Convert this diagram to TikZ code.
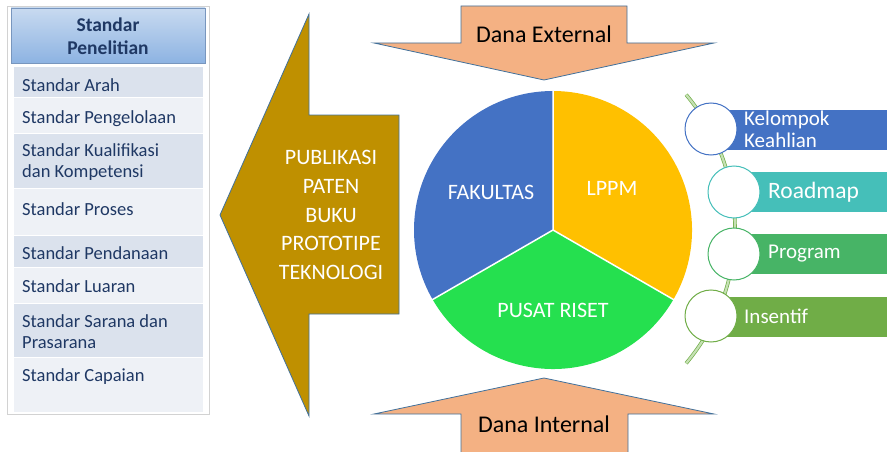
\documentclass[tikz,border=0pt]{standalone}
\usepackage{fontspec}
\setmainfont{Carlito}
\usetikzlibrary{shapes.geometric}
\definecolor{edgeblue}{HTML}{41719C}
\definecolor{danafill}{HTML}{F4B183}
\definecolor{gold}{HTML}{BF9000}
\definecolor{pieblue}{HTML}{4472C4}
\definecolor{pieyellow}{HTML}{FFC000}
\definecolor{piegreen}{HTML}{25E04F}
\definecolor{navy}{HTML}{1F3864}
\definecolor{banddark}{HTML}{DBE2ED}
\definecolor{bandlight}{HTML}{EEF1F6}
\definecolor{barblue}{HTML}{4472C4}
\definecolor{barteal}{HTML}{45BFB9}
\definecolor{bargreen}{HTML}{47B466}
\definecolor{barolive}{HTML}{70AD47}
\tikzset{
  danaarrow/.style={fill=danafill,draw=edgeblue,line width=0.8pt},
  dananame/.style={font=\fontsize{24}{28}\selectfont,text=black},
  pielabel/.style={font=\fontsize{22}{26}\selectfont,text=white},
  itemtext/.style={anchor=west,font=\fontsize{18.5}{21}\selectfont,text=navy,align=left,inner sep=0pt},
  banddk/.style={fill=banddark,draw=white,line width=1pt},
  bandlt/.style={fill=bandlight,draw=white,line width=1pt},
  ringc/.style={circle,fill=white,line width=1pt,minimum size=52pt,inner sep=0pt},
  bartext/.style={anchor=west,font=\fontsize{23.5}{26}\selectfont,text=white,align=left,inner sep=0pt},
}
\begin{document}
\begin{tikzpicture}[x=1pt,y=1pt]
\useasboundingbox (0,0) rectangle (887,451);
% left panel
\draw[gray!35,fill=white,line width=1pt] (7,444) rectangle (209,37);
\shade[top color={rgb,255:red,200;green,218;blue,240},bottom color={rgb,255:red,141;green,179;blue,226},draw={rgb,255:red,120;green,150;blue,190},line width=0.8pt] (11,443) rectangle (205,388);
\node[font=\bfseries\fontsize{19.5}{23}\selectfont,text=navy,align=center] (hdr) at (108,415) {Standar\\Penelitian};
\fill[banddk] (13,384) rectangle (203,353);
\fill[bandlt] (13,353) rectangle (203,318);
\fill[banddk] (13,318) rectangle (203,263);
\fill[bandlt] (13,263) rectangle (203,216);
\fill[banddk] (13,216) rectangle (203,184);
\fill[bandlt] (13,184) rectangle (203,148);
\fill[banddk] (13,148) rectangle (203,94);
\fill[bandlt] (13,94) rectangle (203,39);
\node[itemtext] (s1) at (22,366) {Standar Arah};
\node[itemtext] (s2) at (22,332) {Standar Pengelolaan};
\node[itemtext] (s3) at (22,288.5) {Standar Kualifikasi\\dan Kompetensi};
\node[itemtext] (s4) at (22,242) {Standar Proses};
\node[itemtext] (s5) at (22,198) {Standar Pendanaan};
\node[itemtext] (s6) at (22,165) {Standar Luaran};
\node[itemtext] (s7) at (22,119.5) {Standar Sarana dan\\Prasarana};
\node[itemtext] (s8) at (22,74) {Standar Capaian};
% big left arrow
\draw[fill=gold,draw=edgeblue,line width=0.8pt] (220,236) -- (309,437) -- (309,336) -- (399,336) -- (399,137) -- (309,137) -- (309,35) -- cycle;
\node[font=\fontsize{22}{28.7}\selectfont,text=white,align=center] (out) at (331,236) {PUBLIKASI\\PATEN\\BUKU\\PROTOTIPE\\TEKNOLOGI};
% dana arrows
\draw[danaarrow] (461,445) -- (627,445) -- (627,408) -- (714,408) -- (544,371) -- (374,408) -- (461,408) -- cycle;
\node[dananame] (ext) at (544,417) {Dana External};
\draw[danaarrow] (544,73) -- (714,37) -- (628,37) -- (628,-2) -- (461,-2) -- (461,37) -- (374,37) -- cycle;
\node[dananame] (int) at (544,27) {Dana Internal};
% pie
\coordinate (pc) at (553,221);
\fill[pieblue] (pc) -- ++(90:139) arc[start angle=90,end angle=210,radius=139] -- cycle;
\fill[pieyellow] (pc) -- ++(-30:139) arc[start angle=-30,end angle=90,radius=139] -- cycle;
\fill[piegreen] (pc) -- ++(210:139) arc[start angle=210,end angle=330,radius=139] -- cycle;
\draw[white,line width=1.5pt] (pc) -- ++(90:139.5) (pc) -- ++(210:139.5) (pc) -- ++(-30:139.5);
\node[pielabel] (fak) at (491,259) {FAKULTAS};
\node[pielabel] (lppm) at (612,263) {LPPM};
\node[pielabel] (pr) at (553,141) {PUSAT RISET};
% right timeline
\fill[barblue] (727,341) rectangle (887,301);
\fill[barteal] (750,279) rectangle (887,239);
\fill[bargreen] (750,217) rectangle (887,177);
\fill[barolive] (727,154) rectangle (887,114);
\draw[draw=barolive,double={rgb,255:red,197;green,224;blue,180},double distance=2.2pt,line width=0.7pt] (526,222) ++(40:209) arc[start angle=40,end angle=-40,radius=209];
\node[ringc,draw=barblue] (c1) at (711,322) {};
\node[ringc,draw=barteal] (c2) at (734,259) {};
\node[ringc,draw=bargreen] (c3) at (734,197) {};
\node[ringc,draw=barolive] (c4) at (711,135) {};
\node[bartext,font=\fontsize{21}{22}\selectfont] (t1) at (744,322) {Kelompok\\Keahlian};
\node[bartext] (t2) at (768,259) {Roadmap};
\node[bartext,font=\fontsize{21}{22}\selectfont] (t3) at (768,197) {Program};
\node[bartext,font=\fontsize{21}{22}\selectfont] (t4) at (744,135) {Insentif};
\end{tikzpicture}
\end{document}
